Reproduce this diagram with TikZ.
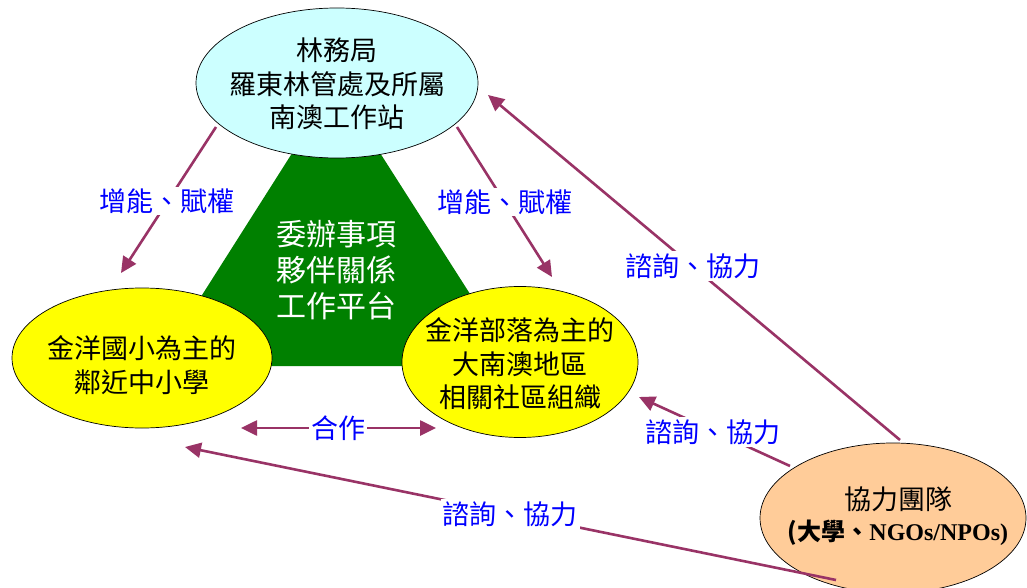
\documentclass[tikz,border=0pt]{standalone}
\usepackage{fontspec}
\setmainfont{Liberation Serif}
\newfontfamily\cjk{Noto Sans CJK TC}
\usetikzlibrary{arrows.meta,shapes.geometric}
\definecolor{topc}{RGB}{204,255,255}
\definecolor{yel}{RGB}{255,255,0}
\definecolor{orng}{RGB}{255,204,153}
\definecolor{grn}{RGB}{0,128,0}
\definecolor{arrc}{RGB}{153,51,102}
\definecolor{lblue}{RGB}{0,0,255}
\begin{document}
\begin{tikzpicture}[x=1pt,y=-1pt,
  ell/.style={ellipse, draw=black, line width=0.7pt, inner sep=0pt},
  txt/.style={align=center, font=\cjk\fontsize{27}{33.5}\selectfont, text=black, inner sep=0pt},
  conn/.style={draw=arrc, line width=2.6pt, -{Triangle[length=16pt,width=15pt]}},
  lbl/.style={text=lblue, font=\cjk\fontsize{27}{30}\selectfont, fill=white, inner sep=2pt}
]
\useasboundingbox (0,0) rectangle (1027,588);
\fill[white] (0,0) rectangle (1027,588);

% green triangle
\fill[grn] (336,84) -- (157,366) -- (516,366) -- cycle;
\node[align=center, text=white, font=\cjk\fontsize{30}{36}\selectfont, inner sep=0pt] (plat) at (336,270) {委辦事項\\夥伴關係\\工作平台};

% ellipses
\node[ell, fill=topc, minimum width=282, minimum height=150] (top) at (337,83) {};
\node[txt] (toptext) at (337,84) {林務局\\羅東林管處及所屬\\南澳工作站};

\node[ell, fill=yel, minimum width=260, minimum height=140] (left) at (142,358) {};
\node[txt] (lefttext) at (142,365) {金洋國小為主的\\鄰近中小學};

\node[ell, fill=yel, minimum width=236, minimum height=151] (right) at (520,362) {};
\node[txt] (righttext) at (520,364) {金洋部落為主的\\大南澳地區\\相關社區組織};

\node[ell, fill=orng, minimum width=266, minimum height=150] (team) at (893,518) {};
\node[txt] (teamtext) at (898,516) {協力團隊\\[-3pt]{\fontsize{24}{28}\selectfont\bfseries(\cjk 大學、\rmfamily\bfseries NGOs/NPOs)}};

% connector end points
\coordinate (t1) at (216,127);
\coordinate (l1) at (121,273);
\coordinate (t2) at (457,127);
\coordinate (r2) at (552,277);
\coordinate (o3) at (900,440);
\coordinate (t3) at (488,95);
\coordinate (o4) at (790,466);
\coordinate (r4) at (639,397);
\coordinate (o5) at (836,580);
\coordinate (l5) at (185,447);
\coordinate (c1) at (241,428);
\coordinate (c2) at (436,428);

\draw[conn] (t1) -- (l1);
\draw[conn] (t2) -- (r2);
\draw[conn] (o3) -- (t3);
\draw[conn] (o4) -- (r4);
\draw[conn] (o5) -- (l5);
\draw[conn, {Triangle[length=16pt,width=15pt]}-{Triangle[length=16pt,width=15pt]}] (c1) -- (c2);

% labels
\node[lbl] (lab1) at (167,201) {增能、賦權};
\node[lbl] (lab2) at (505,202) {增能、賦權};
\node[lbl] (lab3) at (693,266) {諮詢、協力};
\node[lbl] (lab4) at (713,432) {諮詢、協力};
\node[lbl] (lab5) at (510,514) {諮詢、協力};
\node[lbl] (lab6) at (338,428) {合作};
\end{tikzpicture}
\end{document}
